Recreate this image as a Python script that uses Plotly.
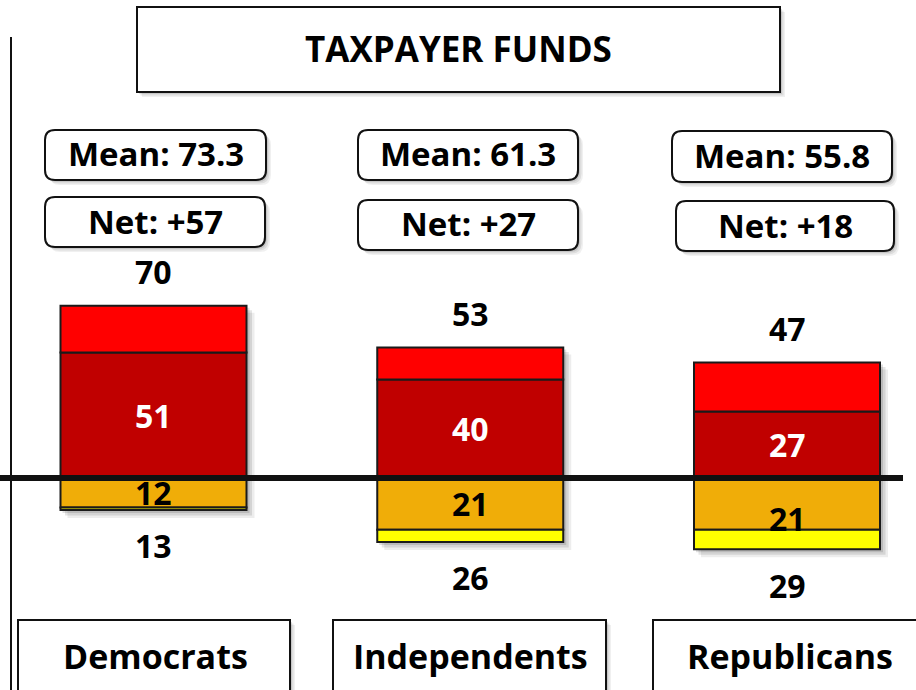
import plotly.graph_objects as go

# ---------------- data ----------------
categories = ["Democrats", "Independents", "Republicans"]
strong_support = [51, 40, 27]      # dark red
total_support = [70, 53, 47]       # top totals
strong_oppose = [12, 21, 21]       # orange
total_oppose = [13, 26, 29]        # bottom totals
means = [73.3, 61.3, 55.8]
nets = [57, 27, 18]
title_text = "TAXPAYER FUNDS"

weak_support = [t - s for t, s in zip(total_support, strong_support)]
weak_oppose = [t - s for t, s in zip(total_oppose, strong_oppose)]

W, H = 916, 690
FONT = "Open Sans"
FS = 32
x_pos = list(range(len(categories)))

# axis geometry (pixels <-> data)
PX_PER_X = 316.75
X0_PX = 153.5
PX_PER_Y = 2.46
BASE_PX = 478
xr = [-X0_PX / PX_PER_X, (W - X0_PX) / PX_PER_X]
yr = [-(H - BASE_PX) / PX_PER_Y, BASE_PX / PX_PER_Y]
BAR_W = 186 / PX_PER_X


def px(x):
    return x / W


def py(y):
    return 1 - y / H


fig = go.Figure()

line = dict(color="#1a1a1a", width=2)
fig.add_bar(x=x_pos, y=strong_support, marker=dict(color="#C00000", line=line), width=BAR_W)
fig.add_bar(x=x_pos, y=weak_support, marker=dict(color="#FF0000", line=line), width=BAR_W)
fig.add_bar(x=x_pos, y=[-v for v in strong_oppose], marker=dict(color="#F0AD08", line=line), width=BAR_W)
fig.add_bar(x=x_pos, y=[-v for v in weak_oppose], marker=dict(color="#FFFF00", line=line), width=BAR_W)

shapes = []
annotations = []

# bar shadows (behind bars)
dx = 5 / PX_PER_X
dy = 5 / PX_PER_Y
for i in x_pos:
    for k, op in [(0, 0.12), (1, 0.10), (2, 0.07)]:
        shapes.append(dict(type="rect", xref="x", yref="y", layer="below",
                           x0=i - BAR_W / 2 + dx * (0.4 + 0.5 * k), x1=i + BAR_W / 2 + dx * (0.6 + 0.5 * k),
                           y0=-total_oppose[i] - dy * (0.6 + 0.5 * k), y1=total_support[i] - dy * (0.4 + 0.5 * k),
                           line=dict(width=0), fillcolor=f"rgba(0,0,0,{op})"))

# baseline
shapes.append(dict(type="line", xref="paper", yref="y", x0=0, x1=px(903), y0=0, y1=0,
                   line=dict(color="#111111", width=6)))
# left vertical line
shapes.append(dict(type="line", xref="paper", yref="paper", x0=px(11), x1=px(11), y0=py(37), y1=py(692),
                   line=dict(color="#111111", width=2)))


def rbox(x0, y0, x1, y1, r, fill, lw):
    if r == 0:
        return dict(type="rect", xref="paper", yref="paper", x0=px(x0), x1=px(x1), y0=py(y1), y1=py(y0),
                    fillcolor=fill, line=dict(color="#111111", width=lw))
    rx, ry = r / W, r / H
    X0, X1, Y0, Y1 = px(x0), px(x1), py(y1), py(y0)
    path = (f"M {X0+rx},{Y0} L {X1-rx},{Y0} Q {X1},{Y0} {X1},{Y0+ry} "
            f"L {X1},{Y1-ry} Q {X1},{Y1} {X1-rx},{Y1} "
            f"L {X0+rx},{Y1} Q {X0},{Y1} {X0},{Y1-ry} "
            f"L {X0},{Y0+ry} Q {X0},{Y0} {X0+rx},{Y0} Z")
    return dict(type="path", xref="paper", yref="paper", path=path, fillcolor=fill,
                line=dict(color="#111111", width=lw))


def box(x0, y0, x1, y1, r=0, shadow=True):
    out = []
    if shadow:
        for k, op in [(0, 0.10), (1, 0.08), (2, 0.06)]:
            o = 2 + k * 1.5
            out.append(rbox(x0 + o, y0 + o, x1 + o, y1 + o, r, fill=f"rgba(0,0,0,{op})", lw=0))
    out.append(rbox(x0, y0, x1, y1, r, fill="white", lw=2))
    return out


def label(x, y, text, size=FS, color="black", xref="paper", yref="paper", yshift=0):
    return dict(x=x, y=y, xref=xref, yref=yref, text=f"<b>{text}</b>", showarrow=False,
                xanchor="center", yanchor="middle", yshift=yshift,
                font=dict(family=FONT, size=size, color=color))


# title box
shapes += box(137, 7, 780, 92)
annotations.append(label(px(458), py(48), title_text, size=35))

mean_boxes = [(45, 130, 266, 180), (358, 130, 578, 180), (672, 131, 892, 182)]
net_boxes = [(45, 197, 265, 247), (358, 200, 578, 250), (676, 201, 894, 251)]
cat_boxes = [(18, 620, 290, 720), (333, 620, 606, 720), (653, 620, 940, 720)]
cat_text_x = [155, 470, 790]

for i in x_pos:
    for (bx0, by0, bx1, by1), txt in [(mean_boxes[i], f"Mean: {means[i]}"), (net_boxes[i], f"Net: +{nets[i]}")]:
        shapes += box(bx0, by0, bx1, by1, r=10)
        annotations.append(label(px((bx0 + bx1) / 2), py((by0 + by1) / 2 - 1), txt, size=33))
    bx0, by0, bx1, by1 = cat_boxes[i]
    shapes += box(bx0, by0, bx1, by1)
    annotations.append(label(px(cat_text_x[i]), py(656), categories[i], size=34))

    # value labels
    annotations.append(label(i, total_support[i], total_support[i], xref="x", yref="y", yshift=34))
    annotations.append(label(i, -total_oppose[i], total_oppose[i], xref="x", yref="y", yshift=-36))
    annotations.append(label(i, strong_support[i] / 2, strong_support[i], color="white", xref="x", yref="y"))
    annotations.append(label(i, -strong_oppose[i] / 2, strong_oppose[i], xref="x", yref="y",
                             yshift=-15 if i == 2 else 0))

fig.update_layout(
    width=W, height=H,
    margin=dict(l=0, r=0, t=0, b=0),
    paper_bgcolor="white", plot_bgcolor="white",
    barmode="relative", showlegend=False,
    xaxis=dict(range=xr, visible=False, fixedrange=True),
    yaxis=dict(range=yr, visible=False, fixedrange=True),
    shapes=shapes, annotations=annotations,
)

fig.write_html("out.html", config={"displayModeBar": False},
               post_script="document.body.style.margin='0';document.body.style.overflow='hidden';")
